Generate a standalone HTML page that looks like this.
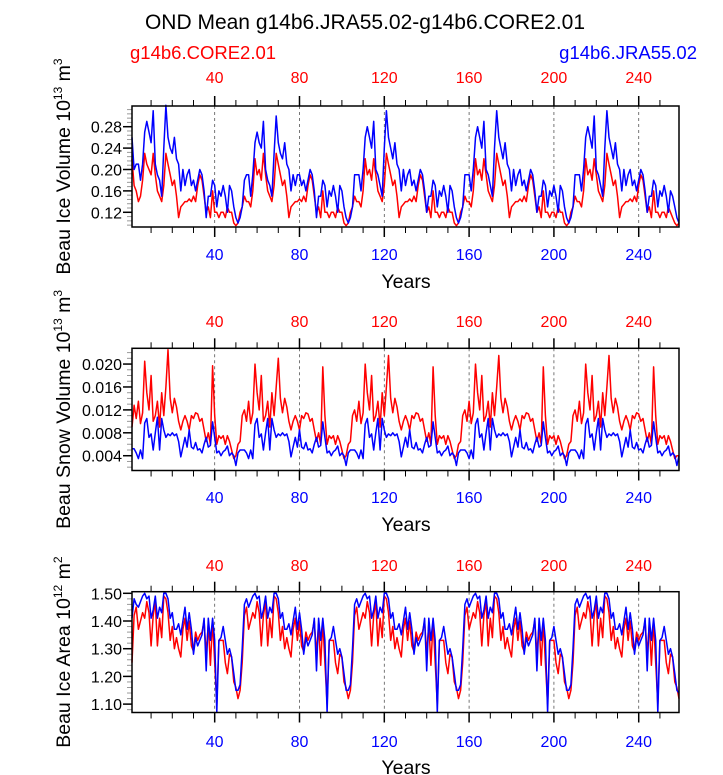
<!DOCTYPE html>
<html><head><meta charset="utf-8"><style>
html,body{margin:0;padding:0;background:#fff;}
svg{display:block;font-family:"Liberation Sans",Arial,sans-serif;}
</style></head><body>
<svg id="chart" width="723" height="775" viewBox="0 0 723 775" xmlns="http://www.w3.org/2000/svg">
<text x="365" y="29" font-size="21" text-anchor="middle" fill="#000">OND Mean g14b6.JRA55.02-g14b6.CORE2.01</text>
<text x="130" y="59" font-size="18.5" fill="#ff0000">g14b6.CORE2.01</text>
<text x="697" y="59" font-size="18.5" text-anchor="end" fill="#0000ff">g14b6.JRA55.02</text>
<g id="plots"></g>
</svg>
<script>
const years=[];for(let i=1;i<=259;i++)years.push(i);
const xTicks=[40,80,120,160,200,240];
const volTicks=[0.12,0.16,0.20,0.24,0.28];
const snowTicks=[0.004,0.008,0.012,0.016,0.020];
const areaTicks=[1.10,1.20,1.30,1.40,1.50];
const volBlue=[0.26,0.20,0.21,0.21,0.18,0.21,0.27,0.29,0.27,0.25,0.31,0.21,0.19,0.18,0.15,0.24,0.32,0.26,0.24,0.23,0.26,0.22,0.21,0.16,0.20,0.17,0.19,0.20,0.17,0.18,0.16,0.18,0.20,0.19,0.16,0.11,0.15,0.15,0.18,0.17,0.13,0.16,0.15,0.17,0.15,0.12,0.17,0.16,0.13,0.11,0.10,0.11,
0.13,0.18,0.19,0.19,0.15,0.19,0.25,0.27,0.25,0.24,0.29,0.20,0.18,0.17,0.15,0.23,0.30,0.25,0.23,0.22,0.25,0.21,0.20,0.16,0.19,0.17,0.19,0.19,0.17,0.18,0.16,0.18,0.20,0.19,0.16,0.11,0.15,0.15,0.18,0.17,0.13,0.16,0.15,0.17,0.15,0.12,0.17,0.16,0.13,0.11,0.10,0.11,
0.13,0.19,0.19,0.19,0.16,0.20,0.26,0.28,0.26,0.24,0.29,0.20,0.19,0.17,0.15,0.24,0.31,0.26,0.24,0.22,0.25,0.21,0.20,0.16,0.20,0.17,0.19,0.20,0.17,0.18,0.16,0.18,0.20,0.19,0.16,0.12,0.15,0.15,0.18,0.17,0.13,0.16,0.15,0.17,0.15,0.12,0.17,0.16,0.13,0.11,0.10,0.11,
0.13,0.19,0.19,0.19,0.16,0.20,0.26,0.28,0.26,0.24,0.29,0.20,0.19,0.17,0.15,0.24,0.31,0.26,0.24,0.22,0.25,0.21,0.20,0.16,0.20,0.17,0.19,0.20,0.17,0.18,0.16,0.18,0.20,0.19,0.16,0.12,0.15,0.15,0.18,0.17,0.13,0.16,0.15,0.17,0.15,0.12,0.17,0.16,0.13,0.11,0.10,0.11,
0.13,0.19,0.19,0.19,0.16,0.20,0.26,0.28,0.26,0.24,0.30,0.20,0.19,0.17,0.15,0.24,0.31,0.26,0.24,0.22,0.25,0.21,0.20,0.16,0.20,0.17,0.19,0.20,0.17,0.18,0.16,0.18,0.20,0.19,0.16,0.12,0.15,0.15,0.18,0.17,0.13,0.16,0.15,0.17,0.15,0.12,0.16,0.15,0.13,0.11,0.10];
const volRed=[0.22,0.17,0.16,0.14,0.15,0.18,0.23,0.21,0.20,0.19,0.23,0.19,0.16,0.15,0.14,0.17,0.23,0.21,0.19,0.17,0.18,0.15,0.11,0.13,0.135,0.14,0.14,0.145,0.14,0.15,0.14,0.17,0.19,0.18,0.15,0.12,0.13,0.11,0.16,0.12,0.12,0.11,0.12,0.12,0.11,0.13,0.12,0.12,0.10,0.095,0.10,0.12,
0.13,0.15,0.14,0.14,0.13,0.16,0.22,0.19,0.20,0.18,0.23,0.19,0.16,0.15,0.14,0.17,0.23,0.21,0.19,0.17,0.18,0.15,0.11,0.13,0.135,0.14,0.14,0.145,0.14,0.15,0.14,0.17,0.19,0.18,0.15,0.12,0.13,0.11,0.16,0.12,0.12,0.11,0.12,0.12,0.11,0.13,0.12,0.12,0.10,0.095,0.10,0.12,
0.13,0.15,0.14,0.14,0.13,0.16,0.22,0.19,0.20,0.18,0.22,0.19,0.16,0.15,0.14,0.17,0.23,0.21,0.19,0.17,0.18,0.15,0.11,0.13,0.135,0.14,0.14,0.145,0.14,0.15,0.14,0.17,0.19,0.18,0.15,0.12,0.13,0.11,0.16,0.12,0.12,0.11,0.12,0.12,0.11,0.13,0.12,0.12,0.10,0.095,0.10,0.12,
0.13,0.15,0.14,0.14,0.13,0.16,0.22,0.19,0.20,0.18,0.22,0.19,0.16,0.15,0.14,0.17,0.23,0.21,0.19,0.17,0.18,0.15,0.11,0.13,0.135,0.14,0.14,0.145,0.14,0.15,0.14,0.17,0.19,0.18,0.15,0.12,0.13,0.11,0.16,0.12,0.12,0.11,0.12,0.12,0.11,0.13,0.12,0.12,0.10,0.095,0.10,0.12,
0.13,0.15,0.14,0.14,0.13,0.16,0.22,0.19,0.20,0.18,0.22,0.19,0.16,0.15,0.14,0.17,0.23,0.21,0.19,0.17,0.18,0.15,0.11,0.13,0.135,0.14,0.14,0.145,0.14,0.15,0.14,0.17,0.19,0.18,0.15,0.12,0.13,0.11,0.16,0.12,0.12,0.11,0.12,0.12,0.11,0.13,0.12,0.11,0.10,0.095,0.10];
const snowRed=[0.009,0.0128,0.0105,0.0135,0.0096,0.0115,0.0205,0.015,0.012,0.018,0.010,0.011,0.0135,0.009,0.015,0.011,0.016,0.0225,0.014,0.0115,0.014,0.0125,0.010,0.0085,0.010,0.011,0.010,0.0085,0.011,0.0105,0.0115,0.0113,0.010,0.0105,0.0085,0.0065,0.008,0.006,0.0197,0.011,0.006,0.0075,0.007,0.0075,0.006,0.0075,0.0065,0.005,0.0035,0.004,0.006,0.0065,
0.011,0.012,0.010,0.0135,0.0096,0.0115,0.020,0.015,0.012,0.018,0.010,0.011,0.0135,0.009,0.015,0.011,0.016,0.021,0.014,0.0115,0.014,0.0125,0.010,0.0085,0.010,0.011,0.010,0.0085,0.011,0.0105,0.0115,0.0113,0.010,0.0105,0.0085,0.0065,0.008,0.006,0.0195,0.011,0.006,0.0075,0.007,0.0075,0.006,0.0075,0.0065,0.005,0.0035,0.004,0.006,0.0065,
0.011,0.012,0.010,0.0135,0.0096,0.0115,0.020,0.015,0.012,0.018,0.010,0.011,0.0135,0.009,0.015,0.011,0.016,0.0215,0.014,0.0115,0.014,0.0125,0.010,0.0085,0.010,0.011,0.010,0.0085,0.011,0.0105,0.0115,0.0113,0.010,0.0105,0.0085,0.0065,0.008,0.006,0.0195,0.011,0.006,0.0075,0.007,0.0075,0.006,0.0075,0.0065,0.005,0.0035,0.004,0.006,0.0065,
0.011,0.012,0.010,0.0135,0.0096,0.0115,0.020,0.015,0.012,0.018,0.010,0.011,0.0135,0.009,0.015,0.011,0.016,0.0215,0.014,0.0115,0.014,0.0125,0.010,0.0085,0.010,0.011,0.010,0.0085,0.011,0.0105,0.0115,0.0113,0.010,0.0105,0.0085,0.0065,0.008,0.006,0.0195,0.011,0.006,0.0075,0.007,0.0075,0.006,0.0075,0.0065,0.005,0.0035,0.004,0.006,0.0065,
0.011,0.012,0.010,0.0135,0.0096,0.0115,0.020,0.015,0.012,0.018,0.010,0.011,0.0135,0.009,0.015,0.011,0.016,0.0215,0.014,0.0115,0.014,0.0125,0.010,0.0085,0.010,0.011,0.010,0.0085,0.011,0.0105,0.0115,0.0113,0.010,0.0105,0.0085,0.0065,0.008,0.006,0.0195,0.011,0.006,0.0075,0.007,0.0075,0.006,0.0075,0.0065,0.005,0.0035,0.004,0.004];
const snowBlue=[0.0052,0.0052,0.0045,0.0035,0.005,0.0035,0.0097,0.0105,0.0072,0.0078,0.005,0.008,0.0107,0.005,0.0105,0.0085,0.0072,0.0078,0.0075,0.008,0.0075,0.0078,0.0065,0.0038,0.0055,0.0072,0.0055,0.0085,0.0055,0.0052,0.0063,0.005,0.0052,0.0045,0.006,0.0072,0.0055,0.0058,0.0099,0.0072,0.0045,0.0048,0.004,0.0047,0.005,0.0057,0.004,0.0045,0.004,0.0023,0.0045,0.005,
0.005,0.005,0.0045,0.0035,0.005,0.0035,0.0095,0.0105,0.0072,0.0078,0.005,0.008,0.0105,0.005,0.0105,0.0085,0.0072,0.0078,0.0075,0.008,0.0075,0.0078,0.0065,0.0038,0.0055,0.0072,0.0055,0.0085,0.0055,0.0052,0.0063,0.005,0.0052,0.0045,0.006,0.0072,0.0055,0.0058,0.0099,0.0072,0.0045,0.0048,0.004,0.0047,0.005,0.0057,0.004,0.0045,0.004,0.0023,0.0045,0.005,
0.005,0.005,0.0045,0.0035,0.005,0.0035,0.0095,0.0105,0.0072,0.0078,0.005,0.008,0.0105,0.005,0.0105,0.0085,0.0072,0.0078,0.0075,0.008,0.0075,0.0078,0.0065,0.0038,0.0055,0.0072,0.0055,0.0085,0.0055,0.0052,0.0063,0.005,0.0052,0.0045,0.006,0.0072,0.0055,0.0058,0.0099,0.0072,0.0045,0.0048,0.004,0.0047,0.005,0.0057,0.004,0.0045,0.004,0.0023,0.0045,0.005,
0.005,0.005,0.0045,0.0035,0.005,0.0035,0.0095,0.0105,0.0072,0.0078,0.005,0.008,0.0105,0.005,0.0105,0.0085,0.0072,0.0078,0.0075,0.008,0.0075,0.0078,0.0065,0.0038,0.0055,0.0072,0.0055,0.0085,0.0055,0.0052,0.0063,0.005,0.0052,0.0045,0.006,0.0072,0.0055,0.0058,0.0099,0.0072,0.0045,0.0048,0.004,0.0047,0.005,0.0057,0.004,0.0045,0.004,0.0023,0.0045,0.005,
0.005,0.005,0.0045,0.0035,0.005,0.0035,0.0095,0.0105,0.0072,0.0078,0.005,0.008,0.0105,0.005,0.0105,0.0085,0.0072,0.0078,0.0075,0.008,0.0075,0.0078,0.0065,0.0038,0.0055,0.0072,0.0055,0.0085,0.0055,0.0052,0.0063,0.005,0.0052,0.0045,0.006,0.0072,0.0055,0.0058,0.0099,0.0072,0.0045,0.0048,0.004,0.0047,0.005,0.0057,0.004,0.0045,0.004,0.0023,0.004];
const areaBlue=[1.41,1.48,1.46,1.45,1.47,1.49,1.50,1.48,1.49,1.41,1.44,1.49,1.41,1.45,1.43,1.50,1.50,1.48,1.41,1.43,1.37,1.37,1.39,1.35,1.40,1.45,1.37,1.43,1.37,1.28,1.34,1.31,1.33,1.35,1.41,1.22,1.41,1.33,1.41,1.33,1.07,1.33,1.34,1.38,1.33,1.28,1.30,1.27,1.21,1.15,1.15,1.17,
1.30,1.46,1.48,1.45,1.47,1.49,1.50,1.48,1.49,1.41,1.44,1.49,1.41,1.45,1.43,1.50,1.50,1.48,1.41,1.43,1.37,1.37,1.39,1.35,1.40,1.45,1.37,1.43,1.37,1.28,1.34,1.31,1.33,1.35,1.41,1.22,1.41,1.33,1.41,1.33,1.07,1.33,1.34,1.38,1.33,1.28,1.30,1.27,1.21,1.15,1.15,1.17,
1.30,1.46,1.48,1.45,1.47,1.49,1.50,1.48,1.49,1.41,1.44,1.49,1.41,1.45,1.43,1.50,1.50,1.48,1.41,1.43,1.37,1.37,1.39,1.35,1.40,1.45,1.37,1.43,1.37,1.28,1.34,1.31,1.33,1.35,1.41,1.22,1.41,1.33,1.41,1.33,1.07,1.33,1.34,1.38,1.33,1.28,1.30,1.27,1.21,1.15,1.15,1.17,
1.30,1.46,1.48,1.45,1.47,1.49,1.50,1.48,1.49,1.41,1.44,1.49,1.41,1.45,1.43,1.50,1.50,1.48,1.41,1.43,1.37,1.37,1.39,1.35,1.40,1.45,1.37,1.43,1.37,1.28,1.34,1.31,1.33,1.35,1.41,1.22,1.41,1.33,1.41,1.33,1.07,1.33,1.34,1.38,1.33,1.28,1.30,1.27,1.21,1.15,1.15,1.17,
1.30,1.46,1.48,1.45,1.47,1.49,1.50,1.48,1.49,1.41,1.44,1.49,1.41,1.45,1.43,1.50,1.50,1.48,1.41,1.43,1.37,1.37,1.39,1.35,1.40,1.45,1.37,1.43,1.37,1.28,1.34,1.31,1.33,1.35,1.41,1.22,1.41,1.33,1.41,1.33,1.07,1.33,1.34,1.38,1.33,1.28,1.30,1.27,1.21,1.15,1.14];
const areaRed=[1.25,1.42,1.45,1.37,1.40,1.43,1.41,1.47,1.43,1.31,1.42,1.47,1.31,1.41,1.34,1.49,1.48,1.43,1.33,1.38,1.30,1.34,1.30,1.27,1.37,1.41,1.33,1.40,1.31,1.29,1.36,1.33,1.35,1.36,1.40,1.28,1.39,1.24,1.40,1.25,1.10,1.33,1.33,1.33,1.25,1.21,1.28,1.27,1.18,1.16,1.12,1.15,
1.25,1.42,1.45,1.37,1.40,1.43,1.41,1.47,1.43,1.31,1.42,1.47,1.31,1.41,1.34,1.49,1.48,1.43,1.33,1.38,1.30,1.34,1.30,1.27,1.37,1.41,1.33,1.40,1.31,1.29,1.36,1.33,1.35,1.36,1.40,1.28,1.39,1.24,1.40,1.25,1.10,1.33,1.33,1.33,1.25,1.21,1.28,1.27,1.18,1.16,1.12,1.15,
1.25,1.42,1.45,1.37,1.40,1.43,1.41,1.47,1.43,1.31,1.42,1.47,1.31,1.41,1.34,1.49,1.48,1.43,1.33,1.38,1.30,1.34,1.30,1.27,1.37,1.41,1.33,1.40,1.31,1.29,1.36,1.33,1.35,1.36,1.40,1.28,1.39,1.24,1.40,1.25,1.10,1.33,1.33,1.33,1.25,1.21,1.28,1.27,1.18,1.16,1.12,1.15,
1.25,1.42,1.45,1.37,1.40,1.43,1.41,1.47,1.43,1.31,1.42,1.47,1.31,1.41,1.34,1.49,1.48,1.43,1.33,1.38,1.30,1.34,1.30,1.27,1.37,1.41,1.33,1.40,1.31,1.29,1.36,1.33,1.35,1.36,1.40,1.28,1.39,1.24,1.40,1.25,1.10,1.33,1.33,1.33,1.25,1.21,1.28,1.27,1.18,1.16,1.12,1.15,
1.25,1.42,1.45,1.37,1.40,1.43,1.41,1.47,1.43,1.31,1.42,1.47,1.31,1.41,1.34,1.49,1.48,1.43,1.33,1.38,1.30,1.34,1.30,1.27,1.37,1.41,1.33,1.40,1.31,1.29,1.36,1.33,1.35,1.36,1.40,1.28,1.39,1.24,1.40,1.25,1.10,1.33,1.33,1.33,1.25,1.21,1.28,1.27,1.18,1.16,1.12];

const NS="http://www.w3.org/2000/svg";
const root=document.getElementById('plots');
const XL=132,XR=679;
function xs(v){return XL+(v-1)*(XR-XL)/258;}
function mk(tag,attrs,parent){const e=document.createElementNS(NS,tag);for(const k in attrs)e.setAttribute(k,attrs[k]);parent.appendChild(e);return e;}

const panels=[
 {key:'ice-volume',top:106,bot:227,ymin:0.0925,ymax:0.3187,ticks:volTicks,dec:2,minor:0.008,red:volRed,blue:volBlue,title:['Beau Ice Volume 10','13',' m','3'],topLab:83,botLab:260,yrs:289},
 {key:'snow-volume',top:348.3,bot:470.5,ymin:0.00142,ymax:0.02275,ticks:snowTicks,dec:3,minor:0.001,red:snowRed,blue:snowBlue,title:['Beau Snow Volume 10','13',' m','3'],topLab:327,botLab:503,yrs:532},
 {key:'ice-area',top:591.7,bot:712.5,ymin:1.0697,ymax:1.5058,ticks:areaTicks,dec:2,minor:0.02,red:areaRed,blue:areaBlue,title:['Beau Ice Area 10','12',' m','2'],topLab:571,botLab:747,yrs:775}
];
panels.forEach(p=>{
 const g=mk('g',{},root);
 
 
 const ys=v=>p.bot-(v-p.ymin)*(p.bot-p.top)/(p.ymax-p.ymin);
 xTicks.forEach(t=>{
  const l=mk('line',{x1:xs(t),x2:xs(t),y1:p.top,y2:p.bot,stroke:'#555','stroke-width':0.8,'stroke-dasharray':'3,3'},g);
  
  
 });
 for(let t=10;t<=250;t+=10){
  const major=t%40===0;const len=major?10:6;
  mk('line',{x1:xs(t),x2:xs(t),y1:p.top,y2:p.top-len,stroke:'#000','stroke-width':major?1.5:1},g);
  mk('line',{x1:xs(t),x2:xs(t),y1:p.bot,y2:p.bot+len,stroke:'#000','stroke-width':major?1.5:1},g);
 }
 xTicks.forEach(t=>{
  const a=mk('text',{x:xs(t),y:p.topLab,'font-size':16,'text-anchor':'middle',fill:'#ff0000'},g);a.textContent=t;
  
  
  const b=mk('text',{x:xs(t),y:p.botLab,'font-size':16,'text-anchor':'middle',fill:'#0000ff'},g);b.textContent=t;
  
  
 });
 for(let v=Math.ceil(p.ymin/p.minor)*p.minor;v<=p.ymax;v+=p.minor){
  mk('line',{x1:XL,x2:XL-5,y1:ys(v),y2:ys(v),stroke:'#999','stroke-width':1},g);
 }
 p.ticks.forEach(t=>{
  mk('line',{x1:XL,x2:XL-9,y1:ys(t),y2:ys(t),stroke:'#000','stroke-width':1.5},g);
  const tx=mk('text',{x:XL-10,y:ys(t)+6,'font-size':16,'text-anchor':'end',fill:'#000'},g);tx.textContent=t.toFixed(p.dec);
  
  
 });
 [['red',p.red,'#ff0000'],['blue',p.blue,'#0000ff']].forEach(([n,arr,c])=>{
  const d=arr.map((v,i)=>(i?'L':'M')+xs(years[i]).toFixed(1)+','+ys(v).toFixed(1)).join('');
  const path=mk('path',{d:d,fill:'none',stroke:c,'stroke-width':1.5,'stroke-linejoin':'round'},g);
  
  
 });
 const box=mk('rect',{x:XL,y:p.top,width:XR-XL,height:p.bot-p.top,fill:'none',stroke:'#000','stroke-width':1.5},g);
 
 
 const yt=mk('text',{x:406,y:p.yrs-1,'font-size':19.5,'text-anchor':'middle',fill:'#000'},g);yt.textContent='Years';
 
 
 const cy=(p.top+p.bot)/2;
 const tt=mk('text',{transform:'translate(70,'+cy+') rotate(-90)','font-size':19.5,'text-anchor':'middle',fill:'#000'},g);
 
 
 p.title.forEach((s,i)=>{const ts=mk('tspan',{},tt);ts.textContent=s;
  if(i%2===1){ts.setAttribute('font-size','12');ts.setAttribute('dy','-8');}
  else if(i>0){ts.setAttribute('dy','8');}
 });
});
</script>
</body></html>
